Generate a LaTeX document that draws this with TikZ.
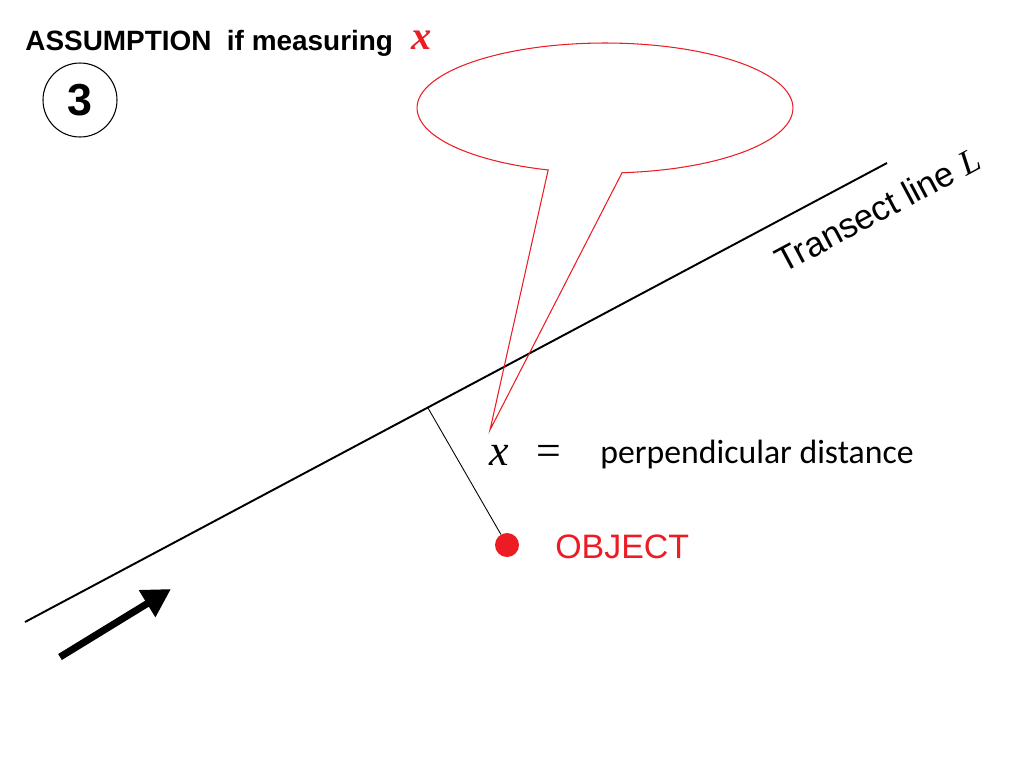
\documentclass[tikz,border=0pt]{standalone}
\usepackage{fontspec}
\setmainfont{Liberation Sans}
\newfontfamily\carlitof{Carlito}
\newfontfamily\timesf{Liberation Serif}
\usetikzlibrary{arrows.meta}
\definecolor{objred}{RGB}{237,28,36}
\begin{document}
\begin{tikzpicture}[x=0.02cm,y=0.02cm,
  txt/.style={inner sep=0pt,anchor=base west},
  callout/.style={draw=objred,line width=0.6pt}]
\useasboundingbox (0,0) rectangle (1024,-768);
% header
\node[txt] (hdr) at (25,-50) {\fontsize{15.9}{18}\selectfont\bfseries ASSUMPTION\hspace{0.55em}if measuring};
\node[txt,text=objred] (hx) at (411,-49) {\fontsize{23}{24}\selectfont\timesf\bfseries\itshape x};
\node[draw,circle,line width=0.6pt,minimum size=74*0.02cm,inner sep=0pt] (num) at (80,-100)
  {\fontsize{25.5}{26}\selectfont\bfseries 3};
% transect line
\coordinate (tA) at (25,-622);
\coordinate (tB) at (887,-163);
\draw[line width=1.1pt] (tA) -- (tB);
\node[txt,rotate=28] (tl) at (783,-274) {\fontsize{19.8}{22}\selectfont Transect line \timesf\itshape L};
% perpendicular
\coordinate (foot) at (428,-408);
\node[circle,fill=objred,minimum size=24*0.02cm,inner sep=0pt] (obj) at (507,-545) {};
\draw[line width=0.5pt] (foot) -- (obj);
\node[txt,text=objred] (objl) at (555,-558) {\fontsize{19.3}{22}\selectfont OBJECT};
% x = perpendicular distance
\node[txt] (xeq) at (489,-465) {\fontsize{25}{26}\selectfont\timesf\itshape x};
\node[txt] (eq) at (536,-465) {\fontsize{25}{26}\selectfont\timesf =};
\node[txt] (pd) at (600,-463) {\fontsize{19.2}{22}\selectfont\carlitof perpendicular distance};
% callout
\coordinate (tip) at (490,-430);
\draw[callout] ([shift={(275.2:3.76cm and 1.3cm)}]605,-108)
  arc[start angle=275.2,end angle=612.4,x radius=3.76cm,y radius=1.3cm] -- (tip) -- cycle;
% direction arrow
\coordinate (aS) at (60,-657);
\coordinate (aE) at (171,-589);
\draw[line width=4pt,-{Triangle[length=16pt,width=17pt]}] (aS) -- (aE);
\end{tikzpicture}
\end{document}
